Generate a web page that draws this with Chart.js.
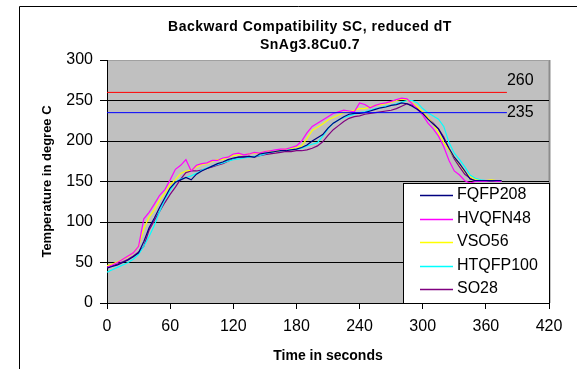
<!DOCTYPE html>
<html lang="en">
<head>
    <meta charset="UTF-8">
    <title>Backward Compatibility SC, reduced dT</title>
    <script src="https://cdn.jsdelivr.net/npm/chart.js"></script>
    <style>
        body {
            margin: 0;
            background-color: white;
            font-family: "Liberation Sans", Arial, sans-serif;
        }
        #chartBox {
            width: 577px;
            height: 369px;
            position: relative;
        }
    </style>
</head>
<body>

<div id="chartBox">
    <canvas id="profileChart"></canvas>
</div>

<script>
    // sample times (s), shared by all five profiles
    const seconds = [
        0, 5, 10, 15, 20, 25, 30, 35, 40, 45,
        50, 55, 60, 65, 70, 75, 80, 85, 90, 95,
        100, 105, 110, 115, 120, 125, 130, 135, 140, 145,
        150, 155, 160, 165, 170, 175, 180, 185, 190, 195,
        200, 205, 210, 215, 220, 225, 230, 235, 240, 245,
        250, 255, 260, 265, 270, 275, 280, 285, 290, 295,
        300, 305, 310, 315, 320, 325, 330, 335, 340, 345,
        350, 355, 360, 365, 370, 375
    ];

    // measured temperatures (deg C) per package
    const fqfp208 = [
        43, 45, 47, 50, 53, 57, 62, 76, 93, 105,
        118, 130, 142, 149, 152, 155, 152, 159, 163, 166,
        169, 172, 174, 177, 179, 180, 180, 181, 180, 184,
        185, 186, 187, 188, 188, 189, 190, 192, 195, 200,
        204, 208, 216, 222, 226, 230, 233, 234, 234, 235,
        237, 239, 241, 242, 244, 245, 247, 246, 243, 239,
        234, 227, 221, 215, 203, 191, 180, 172, 163, 153,
        151, 151, 151, 151, 151, 151
    ];
    const hvqfn48 = [
        44, 47, 50, 54, 58, 62, 70, 104, 112, 122,
        133, 140, 152, 165, 170, 177, 163, 170, 172, 173,
        176, 176, 179, 180, 184, 185, 183, 184, 186, 185,
        187, 188, 189, 190, 190, 192, 194, 200, 210, 218,
        222, 226, 230, 234, 236, 238, 237, 236, 247, 245,
        241, 244, 246, 247, 249, 251, 253, 252, 246, 239,
        232, 222, 215, 206, 193, 176, 163, 158, 151, 148,
        150, 150, 150, 151, 150, 150
    ];
    const vso56 = [
        46, 48, 51, 54, 57, 62, 70, 92, 106, 115,
        127, 136, 146, 152, 160, 163, 164, 168, 171, 172,
        175, 177, 177, 180, 182, 183, 183, 184, 185, 185,
        187, 188, 187, 189, 190, 191, 192, 194, 203, 213,
        217, 221, 226, 229, 232, 235, 236, 238, 240, 240,
        242, 244, 245, 246, 248, 250, 252, 251, 247, 242,
        236, 229, 221, 210, 198, 189, 180, 171, 162, 156,
        152, 151, 151, 152, 151, 151
    ];
    const htqfp100 = [
        38, 41, 44, 47, 50, 54, 60, 70, 82, 96,
        113, 128, 139, 149, 153, 155, 157, 160, 164, 167,
        169, 171, 173, 175, 177, 178, 179, 180, 181, 182,
        184, 186, 187, 188, 189, 190, 190, 191, 194, 196,
        198, 206, 215, 222, 226, 229, 231, 233, 235, 236,
        238, 240, 241, 243, 244, 246, 248, 250, 250, 247,
        240, 235, 231, 227, 218, 198, 185, 177, 168, 158,
        154, 152, 151, 151, 151, 151
    ];
    const so28 = [
        44, 46, 48, 51, 54, 58, 63, 70, 90, 102,
        113, 124, 134, 143, 153, 161, 163, 163, 164, 166,
        168, 170, 172, 175, 178, 180, 181, 181, 180, 182,
        183, 184, 185, 186, 187, 187, 188, 188, 189, 191,
        194, 199, 207, 214, 219, 224, 228, 230, 231, 233,
        234, 235, 236, 237, 238, 240, 243, 246, 244, 240,
        234, 228, 222, 215, 205, 190, 178, 168, 159, 154,
        151, 151, 151, 151, 151, 151
    ];

    const profileNames = ['FQFP208', 'HVQFN48', 'VSO56', 'HTQFP100', 'SO28'];
    const profileColors = ['#000080', '#ff00ff', '#ffff00', '#00ffff', '#800080'];
    const profileValues = [fqfp208, hvqfn48, vso56, htqfp100, so28];

    // limit lines: peak limit and liquidus-ish reference
    const limitValues = [260, 235];
    const limitColors = ['#ff0000', '#0000ff'];
    const limitSpan = [0, 380];

    const xTicks = { min: 0, max: 420, step: 60 };
    const yTicks = { min: 0, max: 300, step: 50 };

    const FONT = '"Liberation Sans", Arial, sans-serif';

    const datasets = [];
    limitValues.forEach(function (v, i) {
        datasets.push({
            label: String(v),
            isLimit: true,
            data: limitSpan.map(function (t) { return { x: t, y: v }; }),
            borderColor: limitColors[i],
            borderWidth: 1,
            pointRadius: 0
        });
    });
    profileValues.forEach(function (vals, i) {
        datasets.push({
            label: profileNames[i],
            data: seconds.map(function (t, k) { return { x: t, y: vals[k] }; }),
            borderColor: profileColors[i],
            borderWidth: 1.2,
            pointRadius: 0,
            tension: 0
        });
    });

    // gray plot area, frame around the whole chart and the two-line heading
    const backdrop = {
        id: 'backdrop',
        beforeDraw(chart) {
            const ctx = chart.ctx;
            const a = chart.chartArea;
            ctx.save();
            ctx.fillStyle = '#ffffff';
            ctx.fillRect(0, 0, chart.width, chart.height);
            ctx.strokeStyle = '#000000';
            ctx.lineWidth = 1;
            ctx.beginPath();
            ctx.moveTo(19.5, chart.height);
            ctx.lineTo(19.5, 6.5);
            ctx.lineTo(chart.width, 6.5);
            ctx.stroke();
            ctx.fillStyle = '#c0c0c0';
            ctx.fillRect(a.left, a.top, a.right - a.left, a.bottom - a.top);
            ctx.strokeStyle = '#8c8c8c';
            ctx.lineWidth = 2;
            ctx.beginPath();
            ctx.moveTo(a.right + 0.5, a.top);
            ctx.lineTo(a.right + 0.5, a.bottom);
            ctx.stroke();

            ctx.fillStyle = '#000000';
            ctx.font = 'bold 14px ' + FONT;
            ctx.textAlign = 'center';
            ctx.textBaseline = 'middle';
            ctx.letterSpacing = '0.5px';
            ctx.fillText('Backward Compatibility SC, reduced dT', 310, 27);
            ctx.fillText('SnAg3.8Cu0.7', 310, 45);
            ctx.restore();
        }
    };

    // value labels at the end of the limit lines
    const limitLabels = {
        id: 'limitLabels',
        afterDatasetsDraw(chart) {
            const ctx = chart.ctx;
            ctx.save();
            ctx.font = '16px ' + FONT;
            ctx.fillStyle = '#000000';
            ctx.textAlign = 'left';
            ctx.textBaseline = 'middle';
            chart.data.datasets.forEach(function (ds, i) {
                if (!ds.isLimit) return;
                const pts = chart.getDatasetMeta(i).data;
                const end = pts[pts.length - 1];
                const lift = ds.data[0].y === 260 ? 12 : 0;
                ctx.fillText(ds.label, end.x, end.y - lift);
            });
            ctx.restore();
        }
    };

    // boxed legend sitting in the lower right corner of the plot
    const boxLegend = {
        id: 'boxLegend',
        afterDraw(chart) {
            const ctx = chart.ctx;
            const a = chart.chartArea;
            const left = 403, top = 183;
            ctx.save();
            ctx.fillStyle = '#ffffff';
            ctx.fillRect(left, top, a.right - left, a.bottom - top);
            ctx.strokeStyle = '#000000';
            ctx.lineWidth = 1;
            ctx.strokeRect(left + 0.5, top + 0.5, a.right - left, a.bottom - top);
            ctx.font = '16px ' + FONT;
            ctx.textAlign = 'left';
            ctx.textBaseline = 'middle';
            profileNames.forEach(function (name, i) {
                const y = 195 + i * 23.5;
                ctx.strokeStyle = profileColors[i];
                ctx.lineWidth = 1.4;
                ctx.beginPath();
                ctx.moveTo(420, Math.round(y) + 0.5);
                ctx.lineTo(453, Math.round(y) + 0.5);
                ctx.stroke();
                ctx.fillStyle = '#000000';
                ctx.fillText(name, 457, y);
            });
            ctx.restore();
        }
    };

    new Chart(document.getElementById('profileChart'), {
        type: 'line',
        data: { datasets: datasets },
        plugins: [backdrop, limitLabels, boxLegend],
        options: {
            responsive: true,
            maintainAspectRatio: false,
            animation: false,
            layout: { padding: { left: 0, top: 60, right: 28, bottom: 0 } },
            plugins: {
                legend: { display: false },
                title: { display: false },
                tooltip: { enabled: false }
            },
            scales: {
                x: {
                    type: 'linear',
                    min: xTicks.min,
                    max: xTicks.max,
                    ticks: {
                        stepSize: xTicks.step,
                        color: '#000000',
                        font: { family: FONT, size: 16 },
                        padding: 8,
                        maxRotation: 0
                    },
                    grid: {
                        drawOnChartArea: false,
                        tickLength: 6,
                        tickColor: '#000000'
                    },
                    border: { color: '#000000', width: 1 },
                    title: {
                        display: true,
                        text: 'Time in seconds',
                        color: '#000000',
                        font: { family: FONT, size: 14, weight: 'bold' },
                        padding: { top: 0, bottom: 4 }
                    },
                    afterFit(scale) { scale.height = 66; }
                },
                y: {
                    min: yTicks.min,
                    max: yTicks.max,
                    ticks: {
                        stepSize: yTicks.step,
                        color: '#000000',
                        font: { family: FONT, size: 16 },
                        padding: 7
                    },
                    grid: {
                        color: function (c) { return c.tick && c.tick.value === 300 ? '#a0a0a0' : '#000000'; },
                        tickColor: '#000000',
                        tickLength: 7
                    },
                    border: { color: '#000000', width: 1 },
                    title: {
                        display: true,
                        text: 'Temperature in degree C',
                        color: '#000000',
                        font: { family: FONT, size: 13, weight: 'bold' },
                        padding: { top: 40, bottom: 0 }
                    },
                    afterFit(scale) { scale.width = 107; }
                }
            }
        }
    });
</script>
</body>
</html>
